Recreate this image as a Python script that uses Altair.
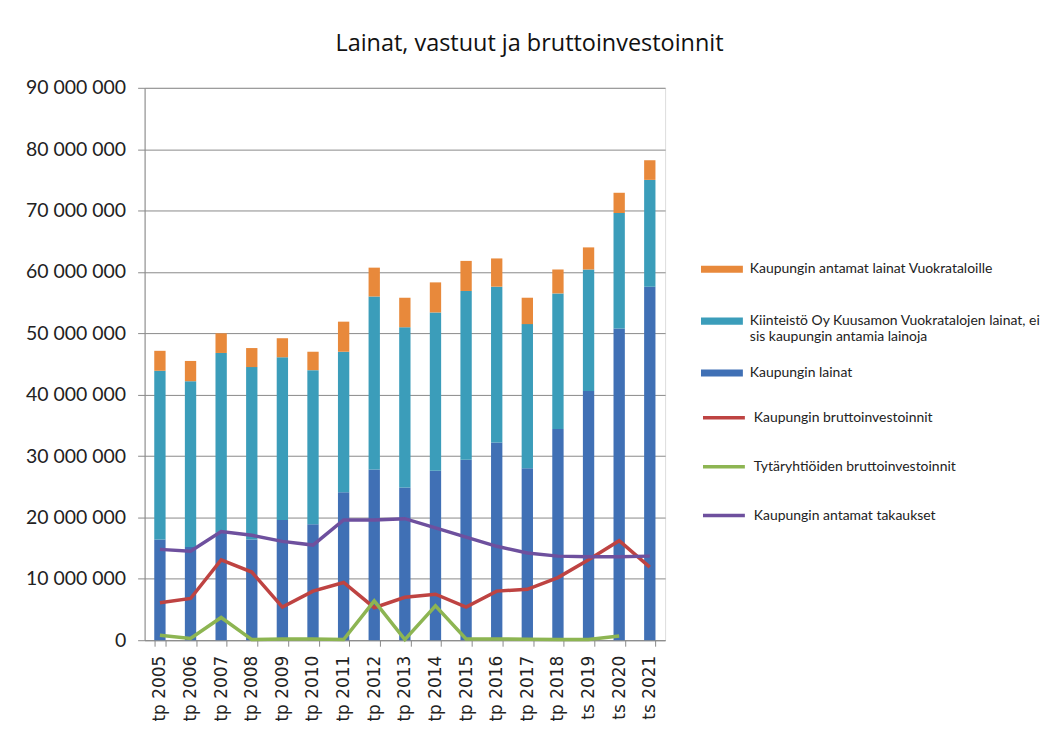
import altair as alt
import pandas as pd

years = ["tp 2005", "tp 2006", "tp 2007", "tp 2008", "tp 2009", "tp 2010", "tp 2011",
         "tp 2012", "tp 2013", "tp 2014", "tp 2015", "tp 2016", "tp 2017", "tp 2018",
         "ts 2019", "ts 2020", "ts 2021"]

# stacked bars (euros)
kaupungin_lainat = [16.4e6, 15.2e6, 17.5e6, 16.4e6, 19.6e6, 18.9e6, 24.1e6, 27.8e6, 24.9e6,
                    27.6e6, 29.4e6, 32.2e6, 28.0e6, 34.4e6, 40.6e6, 50.8e6, 57.6e6]
vuokratalojen_lainat = [27.5e6, 27.0e6, 29.3e6, 28.1e6, 26.5e6, 25.1e6, 22.9e6, 28.2e6, 26.1e6,
                        25.8e6, 27.5e6, 25.4e6, 23.5e6, 22.1e6, 19.8e6, 18.8e6, 17.4e6]
antamat_lainat = [3.25e6, 3.3e6, 3.2e6, 3.1e6, 3.1e6, 3.0e6, 4.9e6, 4.7e6, 4.8e6,
                  4.9e6, 4.9e6, 4.6e6, 4.3e6, 3.9e6, 3.6e6, 3.3e6, 3.2e6]

# lines (euros)
bruttoinvestoinnit = [6.1e6, 6.8e6, 13.1e6, 11.1e6, 5.4e6, 8.0e6, 9.4e6, 5.3e6, 7.0e6,
                      7.5e6, 5.4e6, 8.0e6, 8.3e6, 10.2e6, 13.1e6, 16.2e6, 11.9e6]
tytaryhtiot = [0.8e6, 0.3e6, 3.7e6, 0.1e6, 0.2e6, 0.2e6, 0.1e6, 6.4e6, 0.1e6,
               5.6e6, 0.2e6, 0.2e6, 0.15e6, 0.1e6, 0.1e6, 0.7e6, None]
takaukset = [14.8e6, 14.5e6, 17.7e6, 17.1e6, 16.1e6, 15.5e6, 19.6e6, 19.6e6, 19.8e6,
             18.3e6, 16.8e6, 15.3e6, 14.2e6, 13.7e6, 13.6e6, 13.6e6, 13.7e6]

bar_names = ["Kaupungin antamat lainat Vuokrataloille",
             "Kiinteistö Oy Kuusamon Vuokratalojen lainat, ei sis kaupungin antamia lainoja",
             "Kaupungin lainat"]
bar_colors = ["#E8893B", "#3B9DBA", "#4070B5"]
line_names = ["Kaupungin bruttoinvestoinnit", "Tytäryhtiöiden bruttoinvestoinnit",
              "Kaupungin antamat takaukset"]
line_colors = ["#BE4342", "#8DB552", "#6E509E"]

y_ticks = [0, 10e6, 20e6, 30e6, 40e6, 50e6, 60e6, 70e6, 80e6, 90e6]

bar_series = [(bar_names[2], kaupungin_lainat, 0),
              (bar_names[1], vuokratalojen_lainat, 1),
              (bar_names[0], antamat_lainat, 2)]
bar_rows = []
for name, vals, order in bar_series:
    for yr, v in zip(years, vals):
        bar_rows.append({"year": yr, "series": name, "value": v, "order": order})
bars_df = pd.DataFrame(bar_rows)

line_rows = []
for name, vals in zip(line_names, [bruttoinvestoinnit, tytaryhtiot, takaukset]):
    for yr, v in zip(years, vals):
        if v is not None:
            line_rows.append({"year": yr, "series": name, "value": v})
lines_df = pd.DataFrame(line_rows)

label_expr = "replace(format(datum.value, ',d'), regexp(',', 'g'), ' ')"

x_enc = alt.X("year:N", sort=years,
              scale=alt.Scale(paddingInner=0.63, paddingOuter=0.315),
              axis=alt.Axis(title=None, labelAngle=-90, labelAlign="right", labelBaseline="middle",
                            labelFont="DejaVu Sans", labelFontSize=17, labelColor="#222",
                            labelPadding=9, tickBand="extent", tickSize=6, tickColor="#8a8a8a",
                            domainColor="#8a8a8a", grid=False))

y_scale = alt.Scale(domain=[0, 90e6], nice=False)

bars = alt.Chart(bars_df).mark_bar().encode(
    x=x_enc,
    y=alt.Y("value:Q", stack="zero", scale=y_scale,
            axis=alt.Axis(title=None, values=y_ticks, labelExpr=label_expr,
                          labelFont="Lato", labelFontSize=19.5, labelColor="#222",
                          labelPadding=12, tickSize=7, tickColor="#8a8a8a",
                          domainColor="#8a8a8a", grid=True, gridColor="#8a8a8a")),
    color=alt.Color("series:N", scale=alt.Scale(domain=bar_names, range=bar_colors),
                    legend=alt.Legend(
                        title=None, orient="none", legendX=558, legendY=161, padding=0,
                        symbolType="M-1,-0.17L1,-0.17L1,0.17L-1,0.17Z", symbolSize=1764,
                        symbolStrokeWidth=0, labelFont="Lato", labelFontSize=14,
                        labelColor="#222", labelOffset=7, rowPadding=8, gridAlign="all",
                        labelLimit=400,
                        labelExpr="datum.label == '" + bar_names[1] + "' ? "
                                  "['Kiinteistö Oy Kuusamon Vuokratalojen lainat, ei', "
                                  "'sis kaupungin antamia lainoja'] : datum.label")),
    order=alt.Order("order:Q", sort="ascending"),
)

lines = alt.Chart(lines_df).mark_line(strokeWidth=3.5).encode(
    x=alt.X("year:N", sort=years, bandPosition=0.5),
    y=alt.Y("value:Q", scale=y_scale),
    stroke=alt.Stroke("series:N", scale=alt.Scale(domain=line_names, range=line_colors),
                      legend=alt.Legend(
                          title=None, orient="none", legendX=558, legendY=308, padding=0,
                          symbolType="stroke", symbolSize=1764, symbolStrokeWidth=3.5,
                          labelFont="Lato", labelFontSize=14, labelColor="#222",
                          labelOffset=7, rowPadding=19, labelLimit=400)),
)

chart = alt.layer(bars, lines).resolve_scale(color="independent", stroke="independent").properties(
    width=522,
    height=554,
    padding={"left": 17, "top": 23, "right": 5, "bottom": 5},
    title=alt.TitleParams("Lainat, vastuut ja bruttoinvestoinnit", font="Open Sans", fontSize=23.5,
                          fontWeight="normal", color="#111", anchor="middle", offset=22, dx=125),
).configure_view(stroke=None).configure(background="white")

chart.save("out.html", embed_options={"renderer": "svg", "actions": False})
